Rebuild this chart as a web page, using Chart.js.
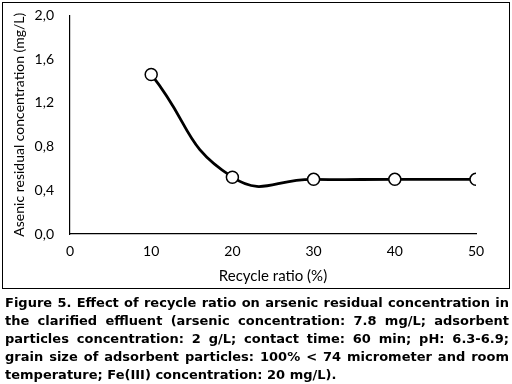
<!DOCTYPE html>
<html>
<head>
<meta charset="utf-8">
<script src="https://cdn.jsdelivr.net/npm/chart.js@4"></script>
<style>
  html, body { margin: 0; padding: 0; background: #fff; }
  body { width: 512px; height: 384px; position: relative; overflow: hidden; }
  #frame { position: absolute; left: 2px; top: 2px; width: 508px; height: 287px; border: 1.5px solid #000; box-sizing: border-box; }
  #wrap { position: absolute; left: 3px; top: -9px; width: 504px; height: 295px; }
  #caption { position: absolute; left: 5px; top: 294px; width: 504px; font-family: "DejaVu Sans", sans-serif; font-weight: bold; font-size: 13px; line-height: 18px; color: #000; }
  #caption div { text-align: justify; text-align-last: justify; white-space: nowrap; }
  #caption div.last { text-align-last: left; }
</style>
</head>
<body>
<div id="wrap"><canvas id="c" width="504" height="295"></canvas></div>
<div id="frame"></div>
<div id="caption">
  <div>Figure 5. Effect of recycle ratio on arsenic residual concentration in</div>
  <div>the clarified effluent (arsenic concentration: 7.8 mg/L; adsorbent</div>
  <div>particles concentration: 2 g/L; contact time: 60 min; pH: 6.3-6.9;</div>
  <div>grain size of adsorbent particles: 100% &lt; 74 micrometer and room</div>
  <div class="last">temperature; Fe(III) concentration: 20 mg/L).</div>
</div>
<script>
const recycleRatio = [10, 20, 30, 40, 50];
const arsenicResidual = [1.46, 0.52, 0.50, 0.50, 0.50];
const xTicks = [0, 10, 20, 30, 40, 50];
const yTicks = [0.0, 0.4, 0.8, 1.2, 1.6, 2.0];

const points = recycleRatio.map((x, i) => ({ x: x, y: arsenicResidual[i] }));
const tickFont = { family: "Lato, 'Open Sans', sans-serif", size: 14 };
const yTitleFont = { family: "Lato, 'Open Sans', sans-serif", size: 14 };
const xTitleFont = { family: "Lato, 'Open Sans', sans-serif", size: 15 };

new Chart(document.getElementById('c'), {
  type: 'line',
  data: {
    datasets: [{
      data: points,
      borderColor: '#000',
      borderWidth: 2.8,
      tension: 0.5,
      pointRadius: 6,
      pointBorderWidth: 1.5,
      pointBorderColor: '#000',
      pointBackgroundColor: '#fff',
      fill: false
    }]
  },
  options: {
    responsive: false,
    animation: false,
    plugins: { legend: { display: false }, tooltip: { enabled: false } },
    layout: { padding: { top: 0, right: 31, bottom: 0, left: 0 } },
    scales: {
      x: {
        type: 'linear',
        min: 0, max: 50,
        afterBuildTicks: (axis) => { axis.ticks = xTicks.map(v => ({ value: v })); },
        afterFit: (axis) => { axis.height = 52; },
        grid: { display: false, drawTicks: false },
        border: { display: true, color: '#000', width: 1.2 },
        ticks: { color: '#000', font: tickFont, padding: 9, maxRotation: 0 },
        title: { display: true, text: 'Recycle ratio (%)', color: '#000', font: xTitleFont, padding: { top: 4, bottom: 1 } }
      },
      y: {
        min: 0, max: 2,
        afterBuildTicks: (axis) => { axis.ticks = yTicks.map(v => ({ value: v })); },
        afterFit: (axis) => { axis.width = 67; },
        grid: { display: false, drawTicks: false },
        border: { display: true, color: '#000', width: 1.2 },
        ticks: { color: '#000', font: tickFont, padding: 16, callback: v => v.toFixed(1).replace('.', ',') },
        title: { display: true, text: 'Asenic residual concentration (mg/L)', color: '#000', font: yTitleFont, padding: { top: 8, bottom: 4 } }
      }
    }
  }
});
</script>
</body>
</html>
